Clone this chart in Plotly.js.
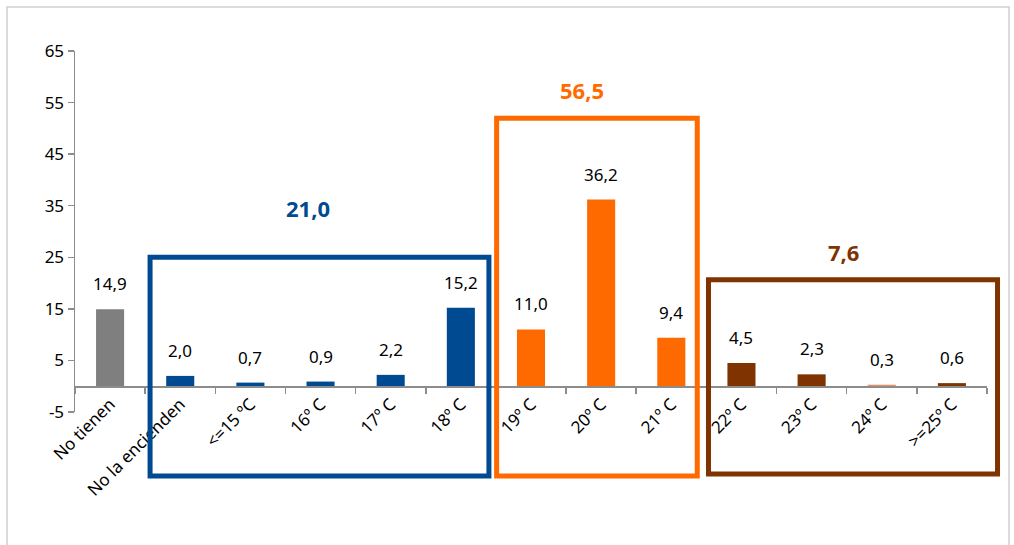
<!DOCTYPE html>
<html>
<head>
<meta charset="utf-8">
<script src="https://cdn.plot.ly/plotly-3.0.1.min.js"></script>
<style>
html,body{margin:0;padding:0;background:#fff;}
#chart{width:1014px;height:545px;}
</style>
</head>
<body>
<div id="chart"></div>
<script>
const categories = ["No tienen","No la encienden","<=15 ºC","16º C","17º C","18º C","19º C","20º C","21º C","22º C","23º C","24º C",">=25º C"];
const values = [14.9, 2.0, 0.7, 0.9, 2.2, 15.2, 11.0, 36.2, 9.4, 4.5, 2.3, 0.3, 0.6];
const barColors = ["#7f7f7f","#004a91","#004a91","#004a91","#004a91","#004a91","#ff6a00","#ff6a00","#ff6a00","#7f3300","#7f3300","#e0956a","#7f3300"];
const groupLabels = ["21,0", "56,5", "7,6"];
const groupColors = ["#004a91", "#ff6a00", "#7f3300"];
const groupStart = [1, 6, 9];
const groupEnd = [5, 8, 12];
const yTicks = [-5, 5, 15, 25, 35, 45, 55, 65];

const N = categories.length;
const yMin = -5, yMax = 65;
const fmt = v => v.toFixed(1).replace('.', ',');
const px = i => (i + 0.5) / N; // category index -> paper x
const FONT = '"Noto Sans", "Open Sans", sans-serif';

const trace = {
  type: 'bar',
  x: categories,
  y: values,
  marker: {color: barColors},
  width: 0.4,
  hoverinfo: 'x+y'
};

const annotations = categories.map((c, i) => ({
  x: c, y: values[i], xref: 'x', yref: 'y',
  text: fmt(values[i]), showarrow: false,
  xanchor: 'center', yanchor: 'bottom', yshift: 12,
  font: {family: FONT, size: 17, color: '#000'}
}));

// box layout (styling)
const boxPad = [[-0.43, 0.40], [-0.49, 0.37], [-0.47, 0.65]];
const boxTop = [0.429, 0.814, 0.366];
const boxBottom = [-0.177, -0.177, -0.172];
const labelY = [0.565, 0.892, 0.443];
const labelXoff = [-0.16, -0.21, -0.14];

const shapes = [{
  type: 'rect', xref: 'paper', yref: 'paper',
  x0: (7 - 75) / 912, x1: (1009 - 75) / 912, y0: (412 - 560) / 361, y1: (412 - 7) / 361,
  line: {color: '#d0d0d0', width: 1.5}
}];
groupLabels.forEach((g, k) => {
  const x0 = px(groupStart[k] + boxPad[k][0]);
  const x1 = px(groupEnd[k] + boxPad[k][1]);
  shapes.push({
    type: 'rect', xref: 'paper', yref: 'paper',
    x0: x0, x1: x1, y0: boxBottom[k], y1: boxTop[k],
    line: {color: groupColors[k], width: 5}
  });
  annotations.push({
    xref: 'paper', yref: 'paper',
    x: (x0 + x1) / 2 + labelXoff[k] / N, y: labelY[k],
    xanchor: 'center', yanchor: 'middle',
    text: '<b>' + g + '</b>', showarrow: false,
    font: {family: FONT, size: 22, color: groupColors[k]}
  });
});

const layout = {
  width: 1014, height: 545,
  margin: {l: 75, r: 27, t: 51, b: 133},
  paper_bgcolor: '#fff', plot_bgcolor: 'rgba(0,0,0,0)',
  showlegend: false,
  font: {family: FONT, size: 17, color: '#000'},
  xaxis: {
    type: 'category',
    range: [-0.5, N - 0.5],
    anchor: 'free',
    position: (0 - yMin) / (yMax - yMin),
    showline: true, linecolor: '#8c8c8c', linewidth: 1.5,
    ticks: 'outside', tickson: 'boundaries', ticklen: 6, tickcolor: '#8c8c8c', tickwidth: 1.5,
    tickangle: -45,
    tickfont: {family: FONT, size: 17, color: '#000'},
    showgrid: false, zeroline: false, fixedrange: true
  },
  yaxis: {
    range: [yMin, yMax],
    tickvals: yTicks,
    ticktext: yTicks.map(String),
    showline: true, linecolor: '#8c8c8c', linewidth: 1.5,
    ticks: 'outside', ticklen: 6, tickcolor: '#8c8c8c', tickwidth: 1.5,
    tickfont: {family: FONT, size: 17, color: '#000'},
    showgrid: false, zeroline: false, fixedrange: true
  },
  shapes: shapes,
  annotations: annotations
};

Plotly.newPlot('chart', [trace], layout, {displayModeBar: false, staticPlot: true});
</script>
</body>
</html>
